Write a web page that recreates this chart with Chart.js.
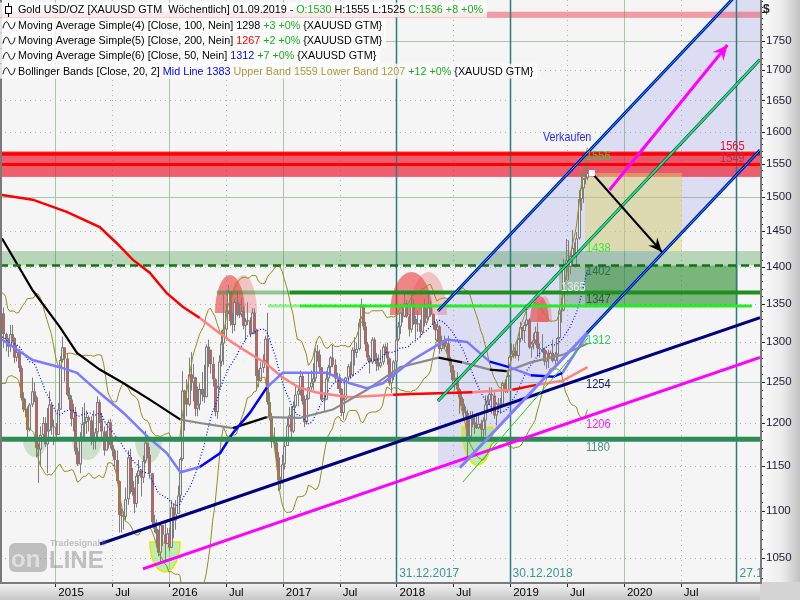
<!DOCTYPE html>
<html>
<head>
<meta charset="utf-8">
<title>Gold USD/OZ</title>
<script src="https://cdn.jsdelivr.net/npm/chart.js@4.4.1/dist/chart.umd.min.js"></script>
<style>
html,body{margin:0;padding:0;background:#ffffff;overflow:hidden;}
canvas{display:block;}
</style>
</head>
<body>
<canvas id="chart" width="800" height="600"></canvas>
<script>
const FONT = '"Liberation Sans", Arial, sans-serif';

// ---------------- axes ----------------
const xMin = 2014.513, xMax = 2021.197;
const yMin = 1025.7, yMax = 1821.9;
const xTickVals = [2015, 2015.5, 2016, 2016.5, 2017, 2017.5, 2018, 2018.5, 2019, 2019.5, 2020, 2020.5];
const xTickLabels = ['2015', 'Jul', '2016', 'Jul', '2017', 'Jul', '2018', 'Jul', '2019', 'Jul', '2020', 'Jul'];
const yTickVals = [1050, 1100, 1150, 1200, 1250, 1300, 1350, 1400, 1450, 1500, 1550, 1600, 1650, 1700, 1750];

// ---------------- weekly candles [high, low, close] (open = previous close) ----------------
const firstWeek = 2014.504;          // Fri 04.07.2014
const weekStep = 7 / 365.25;
const preCloses = [1323, 1326, 1339, 1379, 1335, 1294, 1303, 1318, 1293, 1300, 1302, 1290, 1293, 1292, 1250, 1252, 1274, 1316, 1316];
const firstOpen = 1316;
const hlc2014 = [
  [1332,1312,1320],[1345,1311,1337],[1345,1292,1310],[1312,1288,1303],
  [1305,1281,1294],[1322,1287,1310],[1322,1300,1305],[1306,1273,1280],[1296,1275,1287],
  [1291,1262,1267],[1270,1227,1230],[1237,1213,1216],[1229,1207,1217],
  [1220,1183,1192],[1224,1190,1222],[1255,1219,1238],[1249,1225,1231],[1233,1160,1171],
  [1176,1131,1169],[1196,1150,1186],[1207,1178,1200],[1207,1172,1175],
  [1218,1142,1191],[1238,1190,1222],[1224,1186,1196],[1204,1174,1195]];
const hlc2015 = [
  [1200,1180,1186],[1224,1195,1216],[1282,1226,1277],[1307,1274,1293],[1290,1250,1279],
  [1285,1232,1234],[1243,1216,1228],[1233,1196,1205],[1223,1190,1213],
  [1219,1163,1167],[1171,1150,1152],[1189,1142,1183],[1219,1179,1199],
  [1224,1180,1201],[1215,1187,1207],[1209,1190,1203],[1208,1174,1178],
  [1215,1169,1179],[1194,1169,1189],[1232,1183,1225],[1228,1200,1205],[1212,1182,1190],
  [1196,1162,1168],[1191,1170,1180],[1204,1170,1201],[1205,1170,1174],
  [1184,1161,1168],[1170,1146,1157],[1168,1131,1133],[1134,1077,1096],[1103,1077,1095],
  [1100,1080,1094],[1126,1090,1113],[1168,1107,1160],[1170,1119,1133],
  [1148,1117,1121],[1126,1098,1108],[1142,1104,1139],[1157,1130,1145],
  [1146,1116,1137],[1162,1131,1156],[1191,1153,1177],[1177,1159,1163],[1172,1136,1142],
  [1141,1085,1088],[1096,1077,1081],[1091,1062,1076],[1080,1052,1056],
  [1088,1046,1085],[1085,1063,1075],[1088,1046,1065],[1082,1065,1076]];
const hlc2016 = [
  [1082,1057,1061],[1112,1061,1104],[1109,1071,1090],[1112,1080,1097],[1128,1098,1117],
  [1160,1110,1158],[1263,1156,1239],[1240,1191,1230],[1253,1208,1222],
  [1280,1220,1259],[1287,1239,1249],[1272,1226,1255],[1256,1208,1217],
  [1244,1208,1222],[1248,1215,1241],[1262,1226,1234],[1271,1224,1231],[1297,1236,1294],
  [1303,1268,1290],[1290,1260,1272],[1281,1244,1253],[1254,1208,1213],
  [1245,1205,1243],[1283,1240,1275],[1315,1269,1298],[1362,1271,1316],
  [1350,1306,1340],[1375,1336,1366],[1356,1321,1327],[1338,1311,1322],[1357,1314,1352],
  [1367,1333,1335],[1350,1331,1336],[1358,1332,1340],[1346,1316,1321],
  [1331,1302,1327],[1352,1322,1328],[1332,1306,1310],[1344,1310,1338],[1344,1310,1316],
  [1317,1241,1257],[1265,1243,1251],[1274,1250,1267],[1284,1261,1276],
  [1308,1272,1304],[1338,1222,1225],[1237,1203,1208],[1212,1171,1178],
  [1195,1171,1177],[1179,1155,1160],[1166,1122,1134],[1138,1124,1133],[1163,1130,1152]];
const hlc2017 = [
  [1182,1146,1173],[1207,1173,1197],[1219,1195,1209],[1220,1180,1190],
  [1226,1188,1220],[1245,1218,1234],[1245,1220,1239],[1264,1233,1257],
  [1262,1222,1226],[1233,1195,1201],[1234,1198,1229],[1261,1228,1243],[1264,1240,1249],
  [1273,1240,1254],[1292,1250,1288],[1296,1275,1284],[1290,1261,1268],
  [1267,1226,1228],[1237,1214,1228],[1263,1228,1254],[1271,1250,1268],
  [1282,1260,1280],[1296,1268,1271],[1278,1250,1254],[1261,1241,1256],[1260,1236,1241],
  [1242,1208,1212],[1234,1204,1228],[1256,1230,1255],[1272,1250,1269],
  [1275,1253,1258],[1293,1256,1290],[1306,1270,1286],[1299,1280,1291],
  [1330,1289,1325],[1357,1325,1346],[1349,1315,1320],[1326,1288,1297],[1300,1276,1280],
  [1283,1260,1274],[1306,1272,1303],[1306,1276,1280],[1286,1263,1272],
  [1284,1264,1269],[1290,1267,1274],[1297,1271,1294],[1298,1283,1287],
  [1299,1271,1279],[1280,1245,1248],[1260,1236,1256],[1277,1252,1275],[1306,1274,1303]];
const hlc2018 = [
  [1326,1301,1320],[1338,1310,1338],[1345,1325,1333],[1366,1332,1350],
  [1355,1331,1333],[1336,1307,1316],[1362,1312,1347],[1356,1322,1330],
  [1334,1303,1323],[1341,1313,1324],[1329,1306,1313],[1350,1310,1347],[1356,1320,1325],
  [1343,1322,1332],[1366,1328,1345],[1354,1333,1336],[1337,1316,1323],
  [1326,1302,1315],[1327,1300,1320],[1322,1285,1291],[1308,1288,1302],
  [1308,1291,1294],[1304,1286,1298],[1308,1275,1279],[1281,1261,1270],[1271,1246,1252],
  [1264,1239,1255],[1262,1236,1241],[1242,1211,1231],[1236,1220,1223],
  [1229,1204,1214],[1220,1205,1212],[1216,1160,1184],[1214,1180,1206],[1214,1195,1201],
  [1207,1187,1198],[1212,1193,1194],[1211,1193,1199],[1204,1180,1192],
  [1207,1181,1203],[1233,1185,1222],[1233,1212,1227],[1243,1221,1235],
  [1243,1211,1233],[1237,1205,1209],[1225,1197,1223],[1230,1215,1223],[1230,1211,1222],
  [1250,1221,1248],[1253,1236,1238],[1263,1236,1257],[1283,1256,1281]];
const hlc2019 = [
  [1298,1276,1285],[1297,1279,1289],[1298,1279,1282],[1305,1276,1304],
  [1326,1300,1319],[1320,1302,1314],[1326,1299,1322],[1346,1320,1329],
  [1331,1291,1293],[1300,1280,1298],[1311,1290,1302],[1320,1296,1313],[1325,1281,1292],
  [1298,1280,1291],[1310,1286,1290],[1293,1270,1275],[1289,1266,1286],
  [1290,1267,1280],[1289,1278,1286],[1303,1274,1276],[1287,1268,1284],[1306,1275,1305],
  [1346,1304,1341],[1358,1325,1341],[1411,1340,1399],[1439,1382,1409],
  [1437,1382,1400],[1419,1390,1415],[1452,1401,1426],[1434,1412,1419],
  [1449,1400,1440],[1510,1438,1497],[1535,1480,1513],[1528,1491,1527],[1555,1519,1529],
  [1555,1525,1536]];

// ---------------- moving averages [year, value] ----------------
const ma200 = [[2014.53,1503],[2014.80,1496],[2015.10,1478],[2015.39,1456],[2015.54,1433],[2015.68,1410],[2015.83,1392],[2015.98,1364],[2016.12,1346],[2016.27,1331],[2016.41,1315],[2016.56,1299],[2016.70,1286],[2016.85,1273],[2016.99,1256],[2017.14,1243],[2017.29,1237],[2017.43,1234],[2017.58,1231],[2017.73,1232],[2017.97,1234],[2018.14,1235],[2018.44,1236],[2018.67,1237],[2019.02,1240],[2019.23,1246],[2019.46,1251],[2019.68,1268]];
const ma100 = [[2014.53,1440],[2014.80,1368],[2015.04,1319],[2015.19,1286],[2015.39,1265],[2015.60,1248],[2015.83,1228],[2016.10,1204],[2016.27,1200],[2016.56,1194],[2016.86,1207],[2017.15,1206],[2017.44,1216],[2017.74,1240],[2018.03,1268],[2018.37,1280],[2018.58,1274],[2018.82,1265],[2018.97,1263],[2019.18,1274],[2019.47,1284],[2019.68,1298]];
const ma50 = [[2014.53,1303],[2014.80,1277],[2015.04,1268],[2015.19,1261],[2015.39,1236],[2015.60,1212],[2015.81,1184],[2015.98,1165],[2016.10,1143],[2016.27,1149],[2016.45,1165],[2016.56,1188],[2016.71,1212],[2016.86,1243],[2017.00,1261],[2017.15,1261],[2017.39,1261],[2017.59,1248],[2017.74,1242],[2017.88,1248],[2018.14,1277],[2018.44,1303],[2018.62,1300],[2018.82,1275],[2018.99,1268],[2019.18,1258],[2019.38,1256],[2019.46,1261],[2019.55,1281],[2019.68,1311]];

// ---------------- drawing tools (values) ----------------
const channelUpper = [[2018.365,1340.3],[2021.197,1876.7]];
const channelMid   = [[2018.365,1226.4],[2021.197,1717.9]];
const channelLowA  = [[2018.558,1148.2],[2019.675,1311.4]];
const channelLowB  = [[2019.675,1311.4],[2021.197,1571.2]];
const channelArea  = [[2018.365,1340.3],[2021.197,1876.7],[2021.197,1571.2],[2018.558,1148.2],[2018.365,1145.6]];
const supportLine  = [[2018.584,1132.1],[2019.684,1305.1]];
const navyTrend    = [[2015.392,1064.9],[2021.197,1331.6]];
const magentaTrend = [[2015.770,1039.0],[2021.197,1280.3]];
const sellArrow    = [[2019.719,1535.9],[2020.335,1420.7]];
const targetArrow  = [[2019.873,1510.4],[2020.911,1742.8]];
const redZone = [1530, 1569];
const redLevels = [1565, 1549];
const pinkZone = [1790, 1801];
const greenZone = [1402, 1422];
const dashedLevel = 1402;
const level1365 = [2016.42, 2017.06, 1365];
const level1347 = [2016.87, 2017.15, 2021.126, 1347];
const level1180 = 1181;
const yellowBox = [2019.658, 2020.511, 1422, 1536];
const greenBox = [2019.658, 2021.00, 1347, 1402];
const greenBoxLight = [2019.43, 2019.658, 1347, 1402];
const peakDark  = [[2016.404,2016.668,1337.7,1388.8],[2017.942,2018.320,1335.1,1392.9],[2019.174,2019.341,1325.9,1360.3]];
const peakLight = [[2016.536,2016.773,1337.7,1388.8],[2018.118,2018.444,1335.1,1392.9],[2019.236,2019.367,1325.9,1360.3]];
const troughFaint = [[2014.715,2014.926,1181,1160.4],[2015.146,2015.410,1181,1157],[2015.700,2015.938,1181,1153.6]];
const troughBowls = [[2015.832,2016.096,1067,1035.9],[2018.576,2018.849,1195.3,1151.3]];
const dateLines = [2017.997, 2018.995, 2020.99];
const dateLabels = ['31.12.2017', '30.12.2018', '27.12.2020'];
const levelLabels = [
  ['Verkaufen', 2019.288, 1590], ['1556', 2019.667, 1561], ['1438', 2019.667, 1426],
  ['1402', 2019.667, 1394], ['1365', 2019.447, 1372], ['1347', 2019.667, 1356],
  ['1312', 2019.667, 1302], ['1254', 2019.667, 1247], ['1206', 2019.667, 1198],
  ['1180', 2019.667, 1172], ['1565', 2020.845, 1577], ['1549', 2020.845, 1559]];
const legendRows = [
  [['Gold USD/OZ [XAUUSD GTM  Wöchentlich] 01.09.2019 - ','k'],['O:1530','g'],[' H:1555 L:1525 ','k'],['C:1536 +8 +0%','g']],
  [['Moving Average Simple(4) [Close, 100, Nein] 1298 ','k'],['+3 +0%','g'],[' {XAUUSD GTM}','k']],
  [['Moving Average Simple(5) [Close, 200, Nein] ','k'],['1267','r'],[' +2 +0%','g'],[' {XAUUSD GTM}','k']],
  [['Moving Average Simple(6) [Close, 50, Nein] ','k'],['1312','b'],[' +7 +0%','g'],[' {XAUUSD GTM}','k']],
  [['Bollinger Bands [Close, 20, 2] ','k'],['Mid Line 1383 ','b'],['Upper Band 1559 Lower Band 1207 ','o'],['+12 +0%','g'],[' {XAUUSD GTM}','k']]];

// ---------------- derived series ----------------
const hlcAll = [].concat(hlc2014, hlc2015, hlc2016, hlc2017, hlc2018, hlc2019);
const candles = hlcAll.map((k, i) => ({ t: firstWeek + i * weekStep, o: i === 0 ? firstOpen : hlcAll[i - 1][2], h: k[0], l: k[1], c: k[2] }));
const closesAll = preCloses.concat(hlcAll.map(k => k[2]));
const bbUpper = [], bbLower = [], bbMid = [];
for (let j = 19; j < closesAll.length; j++) {
  const win = closesAll.slice(j - 19, j + 1);
  const m = win.reduce((s, v) => s + v, 0) / 20;
  const sd = Math.sqrt(win.reduce((s, v) => s + (v - m) * (v - m), 0) / 20);
  const t = firstWeek + (j - preCloses.length) * weekStep;
  bbMid.push([t, m]); bbUpper.push([t, m + 2 * sd]); bbLower.push([t, m - 2 * sd]);
}

// ---------------- styling helpers ----------------
function rangeColor(ranges, base) {
  return ctx => {
    const m = (ctx.p0.parsed.x + ctx.p1.parsed.x) / 2;
    for (const r of ranges) if (m >= r[0] && m < r[1]) return r[2];
    return base;
  };
}
const datasets = [];
function add(pts, color, width, extra) {
  datasets.push(Object.assign({
    data: pts.map(p => ({ x: p[0], y: p[1] })), borderColor: color, backgroundColor: color,
    borderWidth: width, pointRadius: 0, pointHoverRadius: 0, showLine: true, fill: false, tension: 0, clip: 0
  }, extra || {}));
}
const H = v => [[xMin, v], [xMax, v]];

// bottom → top
add(bbUpper, '#8f8f1e', 1);
add(bbLower, '#8f8f1e', 1);
add(bbMid, '#0000ff', 1.2, { borderDash: [1, 2] });
add(ma200, '#ff0000', 2.5, { segment: { borderColor: rangeColor([[2016.30, 2017.97, '#ff8282'], [2018.67, 2019.02, '#ff8282'], [2019.23, 2030, '#ff8282']], '#ff0000') } });
add(ma100, '#8a8a8a', 2.2, { segment: { borderColor: rangeColor([[2000, 2016.10, '#000000'], [2016.56, 2016.88, '#000000'], [2018.33, 2018.55, '#000000'], [2018.88, 2018.99, '#000000']], '#8a8a8a') } });
add(ma50, '#7b7bff', 2.5, { segment: { borderColor: rangeColor([[2016.33, 2016.86, '#0000ff'], [2018.88, 2018.99, '#0000ff'], [2019.28, 2019.46, '#0000ff']], '#7b7bff') } });
add(H(level1180), '#2e8b57', 5);
add([[level1365[0], level1365[2]], [level1365[1], level1365[2]]], 'rgba(31,143,31,0.45)', 4);
add([[level1365[1], level1365[2]], [xMax, level1365[2]]], '#1f8f1f', 4);
add([[level1347[0], level1347[3]], [level1347[1], level1347[3]]], 'rgba(40,238,40,0.5)', 3);
add([[level1347[1], level1347[3]], [level1347[2], level1347[3]]], '#22ee22', 3);
add(H(dashedLevel), '#137313', 2.5, { borderDash: [8, 5] });
add(H(redLevels[0]), '#ff0000', 3.5);
add(H(redLevels[1]), '#ff0000', 3);
add(navyTrend, '#000080', 3);
add(magentaTrend, '#ff00ff', 3);
add(supportLine, '#22cc22', 1);
add(channelLowA, '#7f7fff', 3);
add(channelUpper, '#0000ff', 3);
add(channelUpper, '#00ee00', 1);
add(channelMid, '#0000ff', 3);
add(channelMid, '#22ee22', 2);
add(channelLowB, '#0000ff', 3);
add(channelLowB, '#00ee00', 1);
add(sellArrow, '#000000', 2);
add(targetArrow, '#ff00ff', 3);
datasets.forEach((d, i) => { d.order = datasets.length - i; });

// ---------------- plugins ----------------
function mapper(c) {
  const xs = c.scales.x, ys = c.scales.y;
  return { X: t => xs.getPixelForValue(t), Y: v => ys.getPixelForValue(v) };
}
function clipArea(ctx, a) { ctx.beginPath(); ctx.rect(a.left, a.top, a.right - a.left, a.bottom - a.top); ctx.clip(); }

const bgPlugin = {
  id: 'bg',
  beforeDraw(c) {
    const ctx = c.ctx, a = c.chartArea;
    ctx.save();
    ctx.fillStyle = '#ffffff'; ctx.fillRect(0, 0, c.width, c.height);
    ctx.fillStyle = '#f5f5f5'; ctx.fillRect(a.left, a.top, a.right - a.left, a.bottom - a.top);
    let g = ctx.createLinearGradient(a.right, 0, c.width, 0);
    g.addColorStop(0, '#fbfbfb'); g.addColorStop(0.55, '#ececec'); g.addColorStop(1, '#c2c2c2');
    ctx.fillStyle = g; ctx.fillRect(a.right, 0, c.width - a.right, a.bottom);
    g = ctx.createLinearGradient(0, a.bottom, 0, c.height);
    g.addColorStop(0, '#f7f7f7'); g.addColorStop(1, '#c6c6c6');
    ctx.fillStyle = g; ctx.fillRect(0, a.bottom, a.right, c.height - a.bottom);
    ctx.fillStyle = '#d4d4d4'; ctx.fillRect(a.right, a.bottom, c.width - a.right, c.height - a.bottom);
    ctx.restore();
  }
};

const underlay = {
  id: 'underlay',
  beforeDatasetsDraw(c) {
    const ctx = c.ctx, a = c.chartArea, { X, Y } = mapper(c);
    ctx.save();
    clipArea(ctx, a);
    // grid
    ctx.lineWidth = 1;
    yTickVals.forEach(v => {
      const y = Math.round(Y(v)) + 0.5, solid = v % 250 === 0;
      ctx.strokeStyle = solid ? '#a8c6a8' : '#b4b4b4';
      ctx.setLineDash(solid ? [] : [1, 4]);
      ctx.beginPath(); ctx.moveTo(a.left, y); ctx.lineTo(a.right, y); ctx.stroke();
    });
    xTickVals.forEach(t => {
      const x = Math.round(X(t)) + 0.5, yr = Number.isInteger(t);
      ctx.strokeStyle = yr ? '#a8c6a8' : '#b4b4b4';
      ctx.setLineDash(yr ? [] : [1, 4]);
      ctx.beginPath(); ctx.moveTo(x, a.top); ctx.lineTo(x, a.bottom); ctx.stroke();
    });
    ctx.setLineDash([]);
    // channel area
    ctx.fillStyle = 'rgba(120,120,232,0.2)';
    ctx.beginPath();
    channelArea.forEach((p, i) => { const x = X(p[0]), y = Y(p[1]); if (i) ctx.lineTo(x, y); else ctx.moveTo(x, y); });
    ctx.closePath(); ctx.fill();
    // zones
    const box = (t0, t1, v0, v1, col) => {
      const x0 = X(t0), x1 = X(t1), y0 = Y(v1), y1 = Y(v0);
      ctx.fillStyle = col; ctx.fillRect(x0, y0, x1 - x0, y1 - y0);
    };
    box(xMin, xMax, pinkZone[0], pinkZone[1], 'rgba(238,70,85,0.5)');
    box(xMin, xMax, redZone[0], redZone[1], 'rgba(236,30,50,0.7)');
    box(xMin, xMax, greenZone[0], greenZone[1], 'rgba(40,140,40,0.3)');
    box(yellowBox[0], yellowBox[1], yellowBox[2], yellowBox[3], 'rgba(222,214,100,0.45)');
    box(greenBoxLight[0], greenBoxLight[1], greenBoxLight[2], greenBoxLight[3], 'rgba(30,130,30,0.3)');
    box(greenBox[0], greenBox[1], greenBox[2], greenBox[3], 'rgba(20,130,20,0.55)');
    // dated lines
    ctx.strokeStyle = '#2c7c7c'; ctx.lineWidth = 1.5;
    dateLines.forEach(t => { const x = Math.round(X(t)) + 0.5; ctx.beginPath(); ctx.moveTo(x, a.top); ctx.lineTo(x, a.bottom); ctx.stroke(); });
    // half ellipses
    const half = (e, fill, stroke) => {
      const x0 = X(e[0]), x1 = X(e[1]), yb = Y(e[2]), yt = Y(e[3]);
      const up = yt < yb;
      ctx.beginPath();
      ctx.ellipse((x0 + x1) / 2, yb, (x1 - x0) / 2, Math.abs(yt - yb), 0, up ? Math.PI : 0, up ? 2 * Math.PI : Math.PI);
      ctx.closePath();
      ctx.fillStyle = fill; ctx.fill();
      if (stroke) { ctx.strokeStyle = stroke; ctx.lineWidth = 1.5; ctx.stroke(); }
    };
    troughFaint.forEach(e => half(e, 'rgba(60,150,60,0.22)'));
    troughBowls.forEach(e => half(e, 'rgba(120,230,100,0.45)', '#e6e600'));
    peakDark.forEach(e => half(e, 'rgba(235,40,40,0.55)'));
    peakLight.forEach(e => half(e, 'rgba(235,80,80,0.3)'));
    // candles
    candles.forEach(k => {
      const x = Math.round(X(k.t));
      if (x < a.left - 3 || x > a.right + 3) return;
      const hi = Math.max(k.h, k.o, k.c), lo = Math.min(k.l, k.o, k.c);
      ctx.strokeStyle = '#7c7c7c'; ctx.lineWidth = 1;
      ctx.beginPath(); ctx.moveTo(x + 0.5, Y(hi)); ctx.lineTo(x + 0.5, Y(lo)); ctx.stroke();
      const top = Y(Math.max(k.o, k.c)), bot = Y(Math.min(k.o, k.c));
      const h = Math.max(1, bot - top);
      ctx.fillStyle = '#7c7c7c'; ctx.fillRect(x - 1, top, 3, h);
      if (h > 2) { ctx.fillStyle = k.c < k.o ? '#f25050' : '#ececec'; ctx.fillRect(x, top + 1, 1, h - 2); }
    });
    ctx.restore();
  }
};

function arrowHead(ctx, p0, p1, len, wid, color) {
  const ang = Math.atan2(p1[1] - p0[1], p1[0] - p0[0]);
  ctx.save(); ctx.translate(p1[0], p1[1]); ctx.rotate(ang);
  ctx.beginPath(); ctx.moveTo(0, 0); ctx.lineTo(-len, -wid); ctx.lineTo(-len * 0.65, 0); ctx.lineTo(-len, wid); ctx.closePath();
  ctx.fillStyle = color; ctx.fill(); ctx.restore();
}
const labelColors = ['#2b2bff', '#33d633', '#3ee43e', '#2d6b52', '#e4eee4', '#2b5c3c', '#22d45a', '#1a1a66', '#ff22ff', '#4a9090', '#dd1133', '#b83352'];

const overlay = {
  id: 'overlay',
  afterDatasetsDraw(c) {
    const ctx = c.ctx, a = c.chartArea, { X, Y } = mapper(c);
    ctx.save();
    clipArea(ctx, a);
    const sa = sellArrow.map(p => [X(p[0]), Y(p[1])]);
    arrowHead(ctx, sa[0], sa[1], 14, 6, '#000000');
    ctx.fillStyle = '#ffffff';
    ctx.fillRect(sa[0][0] - 3, sa[0][1] - 3, 6, 6);
    const ta = targetArrow.map(p => [X(p[0]), Y(p[1])]);
    arrowHead(ctx, ta[0], ta[1], 15, 7, '#ff00ff');
    // level labels
    levelLabels.forEach((L, i) => {
      const isWord = isNaN(Number(L[0]));
      ctx.save();
      ctx.translate(X(L[1]), Y(L[2]));
      ctx.scale(isWord ? 0.86 : 0.82, 1);
      ctx.font = (isWord ? 12.5 : 13.5) + 'px ' + FONT;
      ctx.textBaseline = 'middle'; ctx.textAlign = 'left';
      ctx.fillStyle = labelColors[i];
      ctx.fillText(L[0], 0, 0);
      ctx.restore();
    });
    // date labels
    ctx.font = '12px ' + FONT; ctx.fillStyle = '#3a9696'; ctx.textBaseline = 'alphabetic';
    dateLines.forEach((t, i) => ctx.fillText(dateLabels[i], X(t) + 3, a.bottom - 5));
    ctx.restore();
  },
  afterDraw(c) {
    const ctx = c.ctx, a = c.chartArea, { X, Y } = mapper(c);
    ctx.save();
    // axis tick marks
    ctx.strokeStyle = '#222'; ctx.lineWidth = 1;
    ctx.beginPath();
    for (let v = 1030; v <= 1820; v += 10) {
      const y = Math.round(Y(v)) + 0.5, len = v % 50 === 0 ? 5 : 3;
      ctx.moveTo(a.right, y); ctx.lineTo(a.right + len, y);
    }
    xTickVals.forEach(t => { const x = Math.round(X(t)) + 0.5; ctx.moveTo(x, a.bottom); ctx.lineTo(x, a.bottom + 5); });
    ctx.stroke();
    // borders
    ctx.strokeStyle = '#7a7a7a'; ctx.lineWidth = 2;
    ctx.beginPath();
    ctx.moveTo(1, a.top); ctx.lineTo(1, a.bottom + 1);
    ctx.moveTo(0, a.bottom + 1); ctx.lineTo(a.right + 1, a.bottom + 1);
    ctx.lineTo(a.right + 1, a.top);
    ctx.stroke();
    // currency
    ctx.font = 'bold 12px ' + FONT; ctx.fillStyle = '#222'; ctx.textBaseline = 'middle';
    ctx.fillText('$', a.right + 3, 10);
    // watermark
    ctx.globalAlpha = 0.5;
    ctx.fillStyle = '#8a8a8a';
    ctx.beginPath(); ctx.roundRect(9, 543, 38, 29, 6); ctx.fill();
    ctx.font = 'bold 24px ' + FONT; ctx.textBaseline = 'alphabetic';
    ctx.fillStyle = '#ffffff'; ctx.fillText('on', 11, 567);
    ctx.fillStyle = '#8a8a8a'; ctx.fillText('LINE', 49, 568);
    ctx.font = 'bold 9px ' + FONT; ctx.fillText('Tradesignal®', 50, 546);
    ctx.globalAlpha = 1;
    // legend
    const colors = { k: '#000000', g: '#16b016', r: '#ff0000', b: '#0000ff', o: '#a8983c' };
    ctx.font = '12px ' + FONT;
    const w1 = legendRows[0].reduce((s, seg) => s + ctx.measureText(seg[0]).width, 0);
    const fs = Math.max(10, Math.min(13, 12 * 466 / w1));
    ctx.font = fs + 'px ' + FONT;
    ctx.textBaseline = 'middle';
    legendRows.forEach((row, i) => {
      const y = 10 + i * 15.3;
      const w = row.reduce((s, seg) => s + ctx.measureText(seg[0]).width, 0);
      ctx.fillStyle = 'rgba(255,255,255,0.78)';
      ctx.fillRect(0, y - 7.5, 18 + w + 4, 15);
      ctx.strokeStyle = '#000'; ctx.lineWidth = 1;
      if (i === 0) {
        ctx.beginPath(); ctx.moveTo(8.5, y - 7); ctx.lineTo(8.5, y + 7); ctx.stroke();
        ctx.fillStyle = '#fff'; ctx.fillRect(5.5, y - 3.5, 6, 7); ctx.strokeRect(5.5, y - 3.5, 6, 7);
      } else {
        ctx.beginPath(); ctx.moveTo(3, y + 3);
        ctx.bezierCurveTo(4.5, y - 5, 7.5, y - 5, 9, y);
        ctx.bezierCurveTo(10.5, y + 5, 13.5, y + 5, 15, y - 3);
        ctx.stroke();
      }
      let x = 18;
      row.forEach(seg => { ctx.fillStyle = colors[seg[1]]; ctx.fillText(seg[0], x, y + 0.5); x += ctx.measureText(seg[0]).width; });
    });
    ctx.restore();
  }
};

// ---------------- chart ----------------
new Chart(document.getElementById('chart'), {
  type: 'scatter',
  data: { datasets },
  options: {
    responsive: false, animation: false, devicePixelRatio: 1, events: [],
    layout: { padding: 0, autoPadding: false },
    plugins: { legend: { display: false }, tooltip: { enabled: false } },
    scales: {
      x: {
        type: 'linear', position: 'bottom', min: xMin, max: xMax,
        grid: { display: false, drawTicks: false }, border: { display: false },
        afterBuildTicks: s => { s.ticks = xTickVals.map(v => ({ value: v })); },
        afterFit: s => { s.height = 18; s.paddingLeft = 0; s.paddingRight = 0; },
        ticks: {
          autoSkip: false, maxRotation: 0, minRotation: 0, align: 'start', padding: 4, labelOffset: 3,
          color: '#000', font: { family: FONT, size: 11.5 },
          callback: (v, i) => xTickLabels[i]
        }
      },
      y: {
        type: 'logarithmic', position: 'right', min: yMin, max: yMax,
        grid: { display: false, drawTicks: false }, border: { display: false },
        afterBuildTicks: s => { s.ticks = yTickVals.map(v => ({ value: v })); },
        afterFit: s => { s.width = 40; s.paddingTop = 0; s.paddingBottom = 0; },
        ticks: {
          autoSkip: false, padding: 6, color: '#1c1c30', font: { family: FONT, size: 11.5 },
          callback: v => String(v)
        }
      }
    }
  },
  plugins: [bgPlugin, underlay, overlay]
});
</script>
</body>
</html>
